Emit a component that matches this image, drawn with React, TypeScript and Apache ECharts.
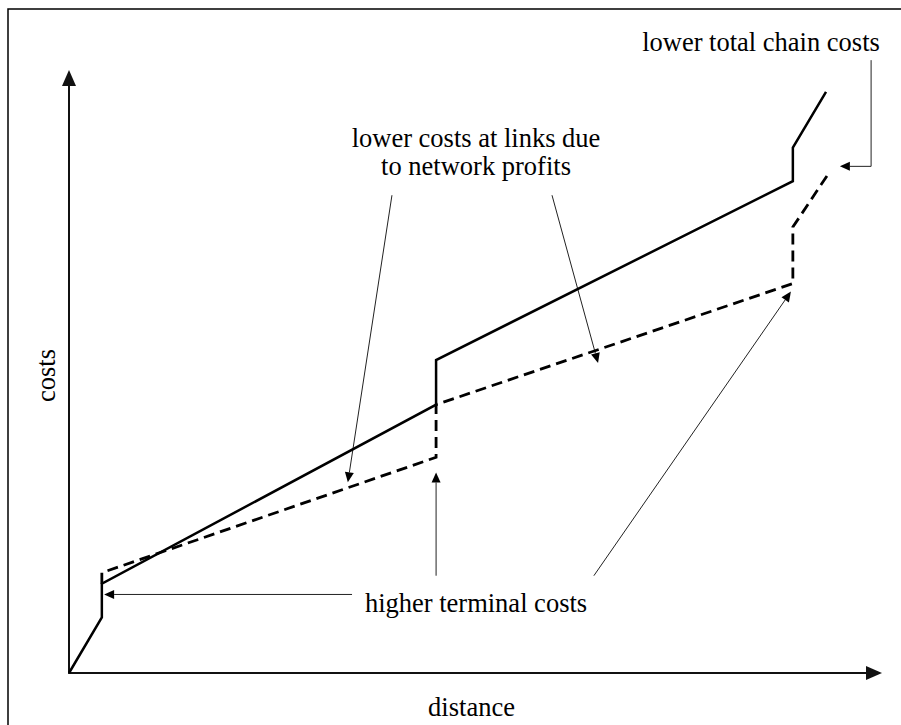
import React, { useEffect, useRef } from "react";
import * as echarts from "echarts";

// Axis ranges (arbitrary units)
const X_MAX = 25;
const Y_MAX = 20;

// Total chain costs without network (solid)
const solidX = [0, 1.02, 1.02, 11.4, 11.4, 22.48, 22.48, 23.51];
const solidY = [0, 1.87, 3.0, 9.02, 10.52, 16.53, 17.66, 19.53];

// Total chain costs with network (dashed)
const dashedX = [1.02, 1.02, 11.4, 11.4, 22.48, 22.48, 23.57];
const dashedY = [3.0, 3.37, 7.25, 9.02, 13.09, 14.99, 16.76];

// Axis names
const xName = "distance";
const yName = "costs";

// Annotation texts
const linksText = ["lower costs at links due", "to network profits"];
const terminalText = "higher terminal costs";
const chainText = "lower total chain costs";

// Annotation arrows in data coordinates
const arrowFrom = [
  [10.03, 16.06],
  [15.0, 16.06],
  [8.79, 2.64],
  [11.4, 3.27],
  [16.3, 3.27],
  [24.91, 20.6],
  [24.91, 17.03],
];
const arrowTo = [
  [8.66, 6.41],
  [16.43, 10.42],
  [1.09, 2.64],
  [11.4, 6.74],
  [22.42, 12.82],
  [24.91, 17.03],
  [23.94, 17.03],
];
const arrowHead = [true, true, true, true, true, false, true];

const FONT_FAMILY = '"Liberation Serif", "Times New Roman", serif';
const FONT = '26.5px "Liberation Serif", "Times New Roman", serif';

export default function App() {
  const ref = useRef<HTMLDivElement>(null);

  useEffect(() => {
    if (!ref.current) return;
    const chart = echarts.init(ref.current, null, { renderer: "svg" });
    const nameStyle = {
      fontFamily: FONT_FAMILY,
      fontSize: 26.5,
      color: "#000",
    };
    const axisCommon = {
      type: "value" as const,
      min: 0,
      axisTick: { show: false },
      axisLabel: { show: false },
      splitLine: { show: false },
      nameLocation: "middle" as const,
      nameTextStyle: nameStyle,
    };
    chart.setOption({
      animation: false,
      grid: { left: 69, right: 27, top: 78, bottom: 48 },
      xAxis: {
        ...axisCommon,
        max: X_MAX,
        name: xName,
        nameGap: 20,
        axisLine: {
          show: true,
          symbol: ["none", "triangle"],
          symbolSize: [14, 16],
          lineStyle: { color: "#111", width: 2 },
        },
      },
      yAxis: {
        ...axisCommon,
        max: Y_MAX,
        name: yName,
        nameGap: 10,
        nameRotate: 90,
        axisLine: {
          show: true,
          symbol: ["none", "triangle"],
          symbolSize: [14, 16],
          lineStyle: { color: "#111", width: 2 },
        },
      },
      series: [
        {
          type: "line",
          data: solidX.map((x, i) => [x, solidY[i]]),
          symbol: "none",
          lineStyle: { color: "#000", width: 2.5, type: "solid", join: "miter" },
          z: 3,
        },
        {
          type: "line",
          data: dashedX.map((x, i) => [x, dashedY[i]]),
          symbol: "none",
          lineStyle: { color: "#000", width: 2.8, type: [11, 6], join: "miter" },
          z: 2,
        },
      ],
    });

    const toPx = (p: number[]) =>
      chart.convertToPixel({ gridIndex: 0 }, p) as number[];

    const graphics: any[] = [
      {
        type: "rect",
        shape: { x: 8, y: 9, width: 1200, height: 1200 },
        style: { fill: "none", stroke: "#000", lineWidth: 1.5 },
        silent: true,
      },
    ];

    const addText = (text: string, x: number, y: number) => {
      graphics.push({
        type: "text",
        x,
        y,
        style: {
          text,
          font: FONT,
          fill: "#000",
          textAlign: "center",
          textVerticalAlign: "middle",
          align: "center",
          verticalAlign: "middle",
        },
      });
    };
    addText(linksText[0], 476, 138);
    addText(linksText[1], 476, 166);
    addText(terminalText, 476, 603);
    addText(chainText, 761, 42);

    arrowFrom.forEach((f, i) => {
      const a = toPx(f);
      const b = toPx(arrowTo[i]);
      const dx = b[0] - a[0];
      const dy = b[1] - a[1];
      const len = Math.sqrt(dx * dx + dy * dy) || 1;
      const ux = dx / len;
      const uy = dy / len;
      const headLen = arrowHead[i] ? 10 : 0;
      const bx = b[0] - ux * headLen;
      const by = b[1] - uy * headLen;
      graphics.push({
        type: "line",
        shape: { x1: a[0], y1: a[1], x2: bx, y2: by },
        style: { stroke: "#222", lineWidth: 1 },
        silent: true,
      });
      if (arrowHead[i]) {
        const nx = -uy * 4.5;
        const ny = ux * 4.5;
        graphics.push({
          type: "polygon",
          shape: {
            points: [
              [b[0], b[1]],
              [bx + nx, by + ny],
              [bx - nx, by - ny],
            ],
          },
          style: { fill: "#000" },
          silent: true,
        });
      }
    });

    chart.setOption({ graphic: graphics });

    return () => chart.dispose();
  }, []);

  return (
    <div
      ref={ref}
      style={{ position: "absolute", left: 0, top: 0, width: 901, height: 725, background: "#fff" }}
    />
  );
}
